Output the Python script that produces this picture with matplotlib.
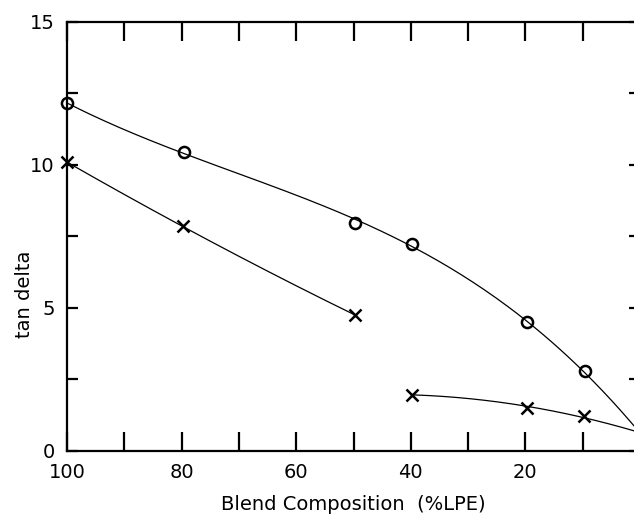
import numpy as np
import matplotlib
matplotlib.use("Agg")
import matplotlib.pyplot as plt
from matplotlib.ticker import MultipleLocator

# ---- data ----
circ_x = [100, 79.5, 49.7, 39.8, 19.7, 9.6]
circ_y = [12.15, 10.45, 7.97, 7.25, 4.5, 2.78]
circ_end_x = [0]
circ_end_y = [0.6]

crossA_x = [100, 79.8, 49.7]
crossA_y = [10.1, 7.85, 4.75]

crossB_x = [39.8, 19.8, 9.7]
crossB_y = [1.97, 1.52, 1.22]
crossB_end_x = [0]
crossB_end_y = [0.62]

x_ticklabels = ["100", "80", "60", "40", "20", "0"]
y_ticklabels = ["0", "5", "10", "15"]
xlabel = "Blend Composition  (%LPE)"
ylabel = "tan delta"

plt.rcParams['font.family'] = ['DejaVu Sans']
fig = plt.figure(figsize=(6.34, 5.15), dpi=100)
ax = fig.add_axes([0.1057, 0.1243, 0.9038, 0.8330])

def fit_curve(xs, ys, deg, x0, x1):
    c = np.polyfit(xs, ys, deg)
    xx = np.linspace(x0, x1, 200)
    return xx, np.polyval(c, xx)

# smooth curves fitted through the markers (and end point at 0 %)
xx, yy = fit_curve(circ_x + circ_end_x, circ_y + circ_end_y, 3, 0, 100)
ax.plot(xx, yy, color='black', lw=0.9)
xx, yy = fit_curve(crossA_x, crossA_y, 2, crossA_x[-1], crossA_x[0])
ax.plot(xx, yy, color='black', lw=0.9)
xx, yy = fit_curve(crossB_x + crossB_end_x, crossB_y + crossB_end_y, 2, 0, crossB_x[0])
ax.plot(xx, yy, color='black', lw=0.9)

ax.plot(circ_x, circ_y, 'o', mfc='none', mec='black', ms=8, mew=1.8, clip_on=False)
ax.plot(crossA_x, crossA_y, 'x', color='black', ms=8, mew=1.8, clip_on=False)
ax.plot(crossB_x, crossB_y, 'x', color='black', ms=8, mew=1.8, clip_on=False)

ax.set_xlim(100, 0)
ax.set_ylim(0, 15)
ax.set_xticks([100, 80, 60, 40, 20, 0])
ax.set_xticklabels(x_ticklabels)
ax.set_yticks([0, 5, 10, 15])
ax.set_yticklabels(y_ticklabels)
ax.xaxis.set_minor_locator(MultipleLocator(10))
ax.yaxis.set_minor_locator(MultipleLocator(2.5))

for s in ax.spines.values():
    s.set_linewidth(1.6)

ax.tick_params(axis='x', which='both', direction='in', length=14, width=1.6,
               top=True, bottom=True, labelsize=14, pad=9)
ax.tick_params(axis='y', which='both', direction='in', length=8, width=1.6,
               left=True, right=True, labelsize=14, pad=9)

fig.text(353/634, 1 - 505/515, xlabel, ha='center', va='center', fontsize=14)
fig.text(25/634, 1 - 294/515, ylabel, ha='center', va='center', fontsize=14, rotation=90)

fig.savefig("out.png", dpi=100)
